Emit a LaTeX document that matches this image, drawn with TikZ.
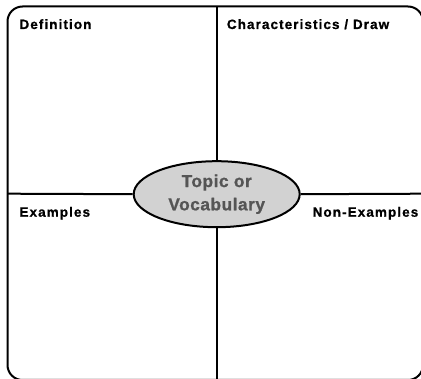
\documentclass[tikz,border=0pt]{standalone}
\usepackage{fontspec}
\setmainfont{Liberation Sans}
\newfontfamily\labfont{Liberation Sans}[UprightFont={* Bold}, LetterSpace=8, FakeBold=0.8]
\newfontfamily\topfont{Liberation Sans}[UprightFont={* Bold}, LetterSpace=3, FakeBold=1]
\usetikzlibrary{shapes.geometric}
\definecolor{ellfill}{HTML}{D2D2D2}
\definecolor{toptext}{HTML}{555555}
\tikzset{
  frame/.style={draw=black, line width=2pt, rounded corners=15pt},
  divider/.style={draw=black, line width=2pt},
  label/.style={inner sep=0pt, font=\labfont\fontsize{13.5}{15}\selectfont, text=black},
  topic/.style={ellipse, draw=black, line width=2pt, fill=ellfill, inner sep=0pt,
    minimum width=166pt, minimum height=66pt, align=center, text=toptext,
    font=\topfont\fontsize{17.3}{23.3}\selectfont}
}
\begin{document}
\begin{tikzpicture}[x=1pt,y=-1pt]
\useasboundingbox (0,0) rectangle (421,379);
\draw[frame] (7.5,6.5) rectangle (423,380);
\coordinate (L) at (7.5,193.7);
\coordinate (R) at (423,193.7);
\coordinate (T) at (216.7,6.5);
\coordinate (B) at (216.7,380);
\node[topic] (topic) at (216.7,194.2) {Topic or\\Vocabulary};
\draw[divider] (L) -- (topic.west);
\draw[divider] (topic.east) -- (R);
\draw[divider] (T) -- (topic.north);
\draw[divider] (topic.south) -- (B);
\node[label, anchor=base west] (def) at (19.3,29) {Definition};
\node[label, anchor=base west] (char) at (226.7,29) {Characteristics / Draw};
\node[label, anchor=base west] (ex) at (19.3,216.7) {Examples};
\node[label, anchor=base east] (nonex) at (418.5,216.7) {Non-Examples};
\end{tikzpicture}
\end{document}
